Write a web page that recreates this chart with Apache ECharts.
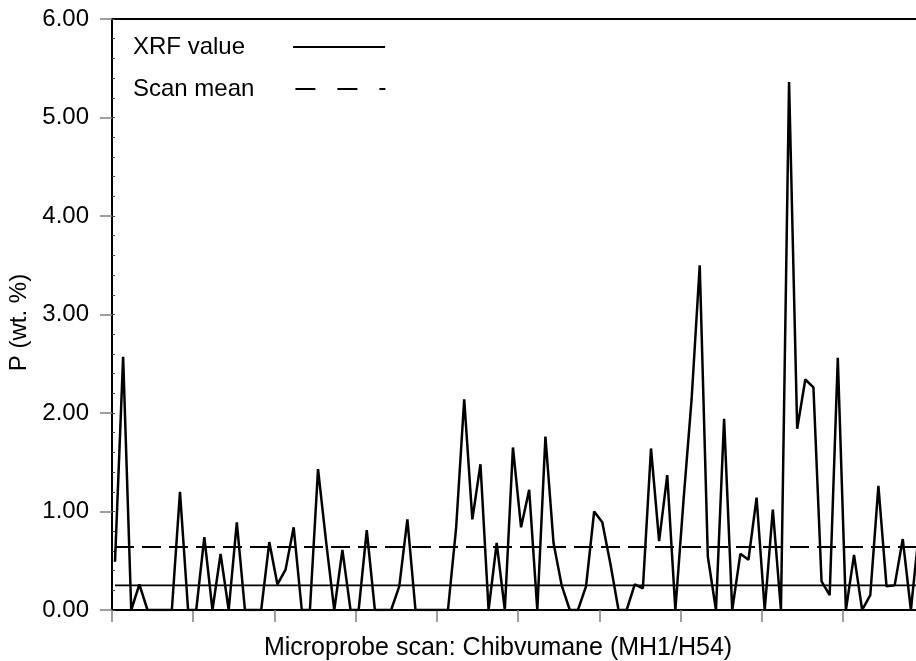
<!DOCTYPE html>
<html>
<head>
<meta charset="utf-8">
<script src="https://cdn.jsdelivr.net/npm/echarts@6/dist/echarts.min.js"></script>
<style>
html,body{margin:0;padding:0;background:#fff;}
#chart{width:916px;height:661px;}
</style>
</head>
<body>
<div id="chart"></div>
<script>
// P (wt. %) along the microprobe scan, one value per analysis point
const scanValues = [
  0.49, 2.57, 0, 0.26, 0, 0, 0, 0, 1.20, 0,
  0, 0.74, 0, 0.57, 0, 0.89, 0, 0, 0, 0.69,
  0.26, 0.41, 0.84, 0, 0, 1.43, 0.69, 0, 0.61, 0,
  0, 0.81, 0, 0, 0, 0.24, 0.92, 0, 0, 0,
  0, 0, 0.83, 2.14, 0.92, 1.48, 0, 0.68, 0, 1.65,
  0.84, 1.22, 0, 1.76, 0.68, 0.25, 0, 0, 0.24, 1.00,
  0.89, 0.47, 0, 0, 0.26, 0.22, 1.64, 0.70, 1.37, 0,
  1.11, 2.14, 3.50, 0.54, 0, 1.94, 0, 0.57, 0.51, 1.14,
  0, 1.02, 0, 5.36, 1.84, 2.34, 2.26, 0.29, 0.15, 2.56,
  0, 0.56, 0, 0.15, 1.26, 0.24, 0.25, 0.72, 0, 0.80
];
const scanStart = 0.37;          // position of first analysis point on the scan axis
const xrfValue = 0.25;           // bulk XRF value
const scanMean = 0.64;           // mean of the scan
const xMin = 0, xMax = 99, xTickStep = 10;
const yTicks = [0, 1, 2, 3, 4, 5, 6];
const legendNames = ['XRF value', 'Scan mean'];

const FONT = '"Liberation Sans", Arial, sans-serif';
const scanData = scanValues.map((v, i) => [scanStart + i, v]);
const xFirst = scanData[0][0];
const xLast = scanData[scanData.length - 1][0];
const xTickValues = [];
for (let t = xMin; t < xMax; t += xTickStep) xTickValues.push(t);

function legendBox(name, top, padRight, lineStyle) {
  return {
    show: true,
    orient: 'vertical',
    left: 133,
    top: top,
    padding: 0,
    itemWidth: 92,
    itemHeight: 14,
    align: 'right',
    selectedMode: false,
    data: [name],
    itemStyle: {opacity: 0},
    textStyle: {color: '#000', fontFamily: FONT, fontSize: 24, padding: [0, padRight, 0, 0]},
    lineStyle: lineStyle
  };
}

const chart = echarts.init(document.getElementById('chart'), null, {renderer: 'canvas'});
chart.setOption({
  animation: false,
  backgroundColor: '#fff',
  grid: {left: 112, top: 19, right: 0, bottom: 51, containLabel: false, outerBoundsMode: 'none'},
  legend: [
    legendBox(legendNames[0], 35, 43, {color: '#000', width: 2, type: 'solid'}),
    legendBox(legendNames[1], 77, 34, {color: '#000', width: 2, type: [20, 22], dashOffset: -2})
  ],
  xAxis: [{
    type: 'value',
    min: xMin,
    max: xMax,
    interval: xTickStep,
    position: 'bottom',
    name: 'Microprobe scan: Chibvumane (MH1/H54)',
    nameLocation: 'middle',
    nameGap: 26,
    nameTextStyle: {color: '#000', fontFamily: FONT, fontSize: 25, padding: [0, 32, 0, 0]},
    axisLine: {show: true, onZero: false, lineStyle: {color: '#000', width: 2}},
    axisTick: {show: true, inside: false, length: 12, customValues: xTickValues, lineStyle: {color: '#808080', width: 1.5}},
    axisLabel: {show: false},
    splitLine: {show: false}
  }, {
    type: 'value',
    min: xMin,
    max: xMax,
    position: 'top',
    axisLine: {show: true, onZero: false, lineStyle: {color: '#000', width: 2}},
    axisTick: {show: false},
    axisLabel: {show: false},
    splitLine: {show: false}
  }],
  yAxis: [{
    type: 'value',
    min: yTicks[0],
    max: yTicks[yTicks.length - 1],
    interval: 1,
    position: 'left',
    name: 'P (wt. %)',
    nameLocation: 'middle',
    nameGap: 67,
    nameRotate: 90,
    nameTextStyle: {color: '#000', fontFamily: FONT, fontSize: 24, padding: [0, 16, 0, 0]},
    axisLine: {show: true, onZero: false, lineStyle: {color: '#000', width: 2}},
    axisTick: {show: true, inside: false, length: 12, lineStyle: {color: '#808080', width: 1.5}},
    axisLabel: {
      show: true, margin: 23, color: '#000', fontFamily: FONT, fontSize: 24,
      formatter: function (v) { return v.toFixed(2); }
    },
    splitLine: {show: false}
  }, {
    type: 'value',
    min: yTicks[0],
    max: yTicks[yTicks.length - 1],
    interval: 0.2,
    position: 'left',
    axisLine: {show: false},
    axisTick: {show: true, inside: true, length: 3, lineStyle: {color: '#444', width: 1}},
    axisLabel: {show: false},
    splitLine: {show: false}
  }],
  series: [{
    name: 'scan',
    type: 'line',
    xAxisIndex: 0, yAxisIndex: 0,
    data: scanData,
    symbol: 'none',
    clip: true,
    lineStyle: {color: '#000', width: 2.5},
    z: 3
  }, {
    name: legendNames[0],
    type: 'line',
    xAxisIndex: 0, yAxisIndex: 0,
    data: [[xFirst, xrfValue], [xLast, xrfValue]],
    symbol: 'none',
    clip: true,
    itemStyle: {color: '#000'},
    lineStyle: {color: '#000', width: 1.8, type: 'solid'},
    z: 2
  }, {
    name: legendNames[1],
    type: 'line',
    xAxisIndex: 0, yAxisIndex: 0,
    data: [[xFirst, scanMean], [xLast, scanMean]],
    symbol: 'none',
    clip: true,
    itemStyle: {color: '#000'},
    lineStyle: {color: '#000', width: 2, type: [19, 8]},
    z: 2
  }]
});
</script>
</body>
</html>
